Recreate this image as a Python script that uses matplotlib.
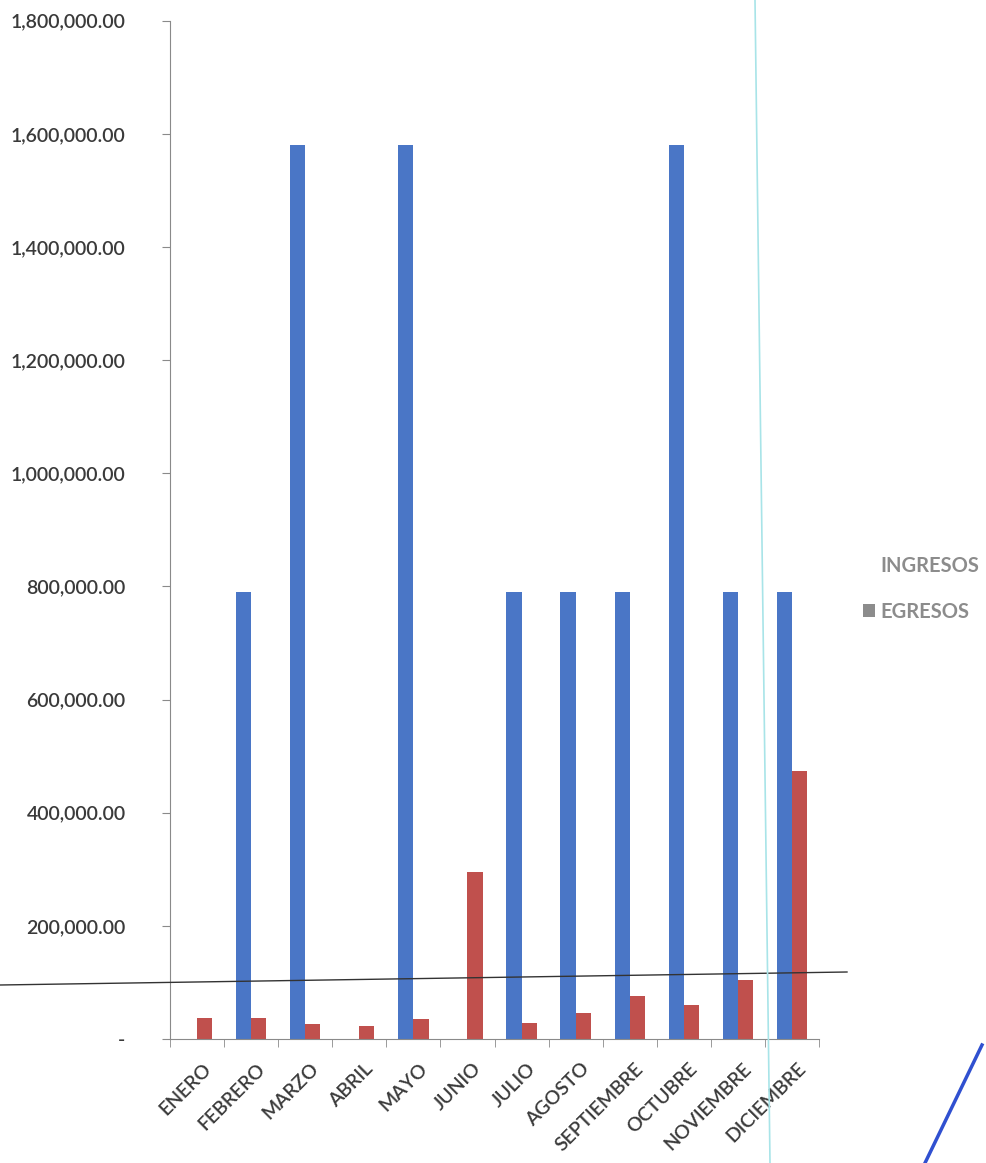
import matplotlib
matplotlib.use("Agg")
import matplotlib.pyplot as plt
import matplotlib.transforms as mtransforms
import numpy as np
from matplotlib.patches import Patch
from matplotlib.lines import Line2D
from matplotlib.ticker import FuncFormatter, FixedLocator

months = ["ENERO", "FEBRERO", "MARZO", "ABRIL", "MAYO", "JUNIO", "JULIO",
          "AGOSTO", "SEPTIEMBRE", "OCTUBRE", "NOVIEMBRE", "DICIEMBRE"]
ingresos = [0, 790000, 1580000, 0, 1580000, 0, 790000, 790000, 790000,
            1580000, 790000, 790000]
egresos = [38000, 37000, 26000, 23000, 35000, 295000, 28000, 46000, 76000,
           60000, 104000, 473000]
series_names = ["INGRESOS", "EGRESOS"]
yticks = list(range(0, 1800001, 200000))

BLUE = "#4a76c6"
RED = "#c0504d"
AXC = "#8a8a8a"
TXT = "#3a3a3a"

plt.rcParams['font.family'] = ['Lato', 'DejaVu Sans']

W, H = 986, 1163
fig = plt.figure(figsize=(W / 100, H / 100), dpi=100)
ax = fig.add_axes([170 / W, 1 - 1039 / H, (819 - 170) / W, (1039 - 20.7) / H])

x = np.arange(len(months))
bw = 0.28
ax.bar(x - bw / 2, ingresos, bw, color=BLUE, label=series_names[0], zorder=2)
ax.bar(x + bw / 2, egresos, bw, color=RED, label=series_names[1], zorder=2)

ax.set_xlim(-0.5, len(months) - 0.5)
ax.set_ylim(0, 1800000)

ax.yaxis.set_major_locator(FixedLocator(yticks))
ax.yaxis.set_major_formatter(FuncFormatter(lambda v, p: "-" if v == 0 else f"{v:,.2f}"))
ax.tick_params(axis='y', length=6, color=AXC, labelsize=14, labelcolor=TXT, pad=26)
for t in ax.get_yticklabels():
    t.set_fontweight('semibold')

ax.set_xticks(x)
ax.set_xticklabels(months, rotation=45, ha='right', va='top', rotation_mode='anchor',
                   fontweight='semibold')
ax.tick_params(axis='x', which='major', length=0, labelsize=14, labelcolor=TXT, pad=15)
offset = mtransforms.ScaledTranslation(5 / 100, 0, fig.dpi_scale_trans)
for t in ax.get_xticklabels():
    t.set_transform(t.get_transform() + offset)
ax.set_xticks(np.arange(-0.5, len(months)), minor=True)
ax.tick_params(axis='x', which='minor', length=6, color=AXC)

for s in ['top', 'right']:
    ax.spines[s].set_visible(False)
ax.spines['left'].set_color(AXC)
ax.spines['bottom'].set_color(AXC)

handles = [Patch(facecolor='none', edgecolor='none'), Patch(facecolor='#8c8c8c')]
leg = fig.legend(handles, series_names, loc='center left',
                 bbox_to_anchor=(845 / W, 1 - 589 / H), frameon=False,
                 handlelength=0.6, handleheight=0.6, handletextpad=0.25,
                 labelspacing=1.25, prop={'size': 14.5, 'weight': 'bold'},
                 labelcolor='#8c8c8c')

# scan artifacts
fig.add_artist(Line2D([0, 847 / W], [1 - 985 / H, 1 - 972 / H], color='#333333', lw=1.0,
                      transform=fig.transFigure))
fig.add_artist(Line2D([755 / W, 770 / W], [1.0, 0.0], color='#a8e4e8', lw=1.2,
                      transform=fig.transFigure))
fig.add_artist(Line2D([925 / W, 982 / W], [0.0, 1 - 1045 / H], color='#3050d0', lw=2.5,
                      transform=fig.transFigure))

fig.savefig("out.png", dpi=100)
